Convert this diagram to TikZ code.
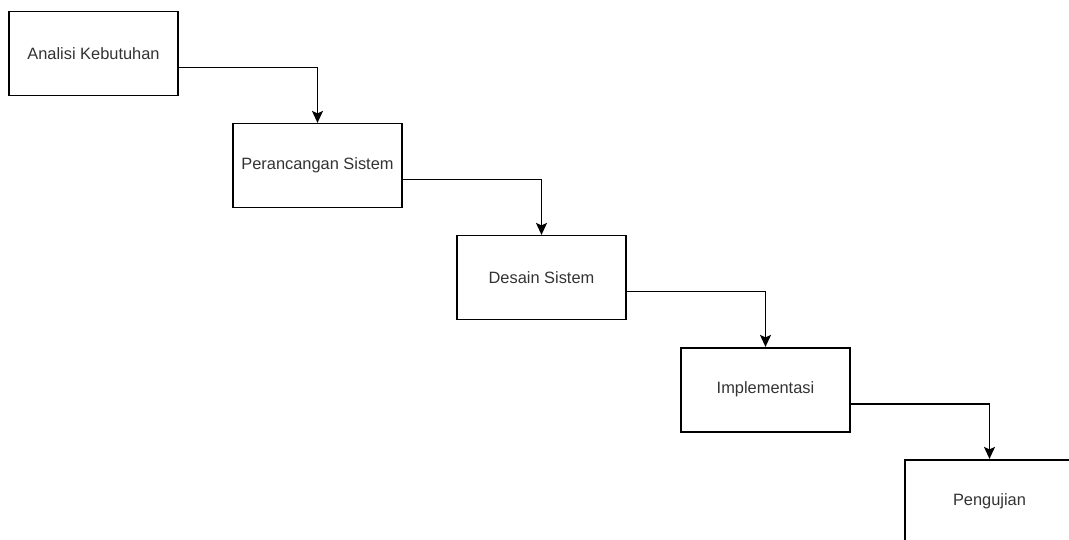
\documentclass[tikz,border=0pt]{standalone}
\usepackage{fontspec}
\setmainfont{Liberation Sans}
\usetikzlibrary{arrows.meta}
\begin{document}
\begin{tikzpicture}[x=1pt,y=-1pt,
  stepbox/.style={draw=black,line width=1.6pt,minimum width=169pt,minimum height=84pt,inner sep=0pt,
    font=\fontsize{16.4}{19}\selectfont,text=black!80},
  conn/.style={line width=1.6pt,-{Stealth[length=12pt,width=11pt,inset=2.5pt]}}]
\useasboundingbox (0,0) rectangle (1069,540);
\clip (0,0) rectangle (1069,540);
\fill[white] (0,0) rectangle (1069,540);
\node[stepbox] (b1) at (93.5,53.7) {Analisi Kebutuhan};
\node[stepbox] (b2) at (317.5,165.7) {Perancangan Sistem};
\node[stepbox] (b3) at (541.5,277.7) {Desain Sistem};
\node[stepbox] (b4) at (765.5,389.7) {Implementasi};
\node[stepbox] (b5) at (989.5,501.7) {Pengujian};
\draw[conn] ([yshift=-14pt]b1.east) -| (b2.north);
\draw[conn] ([yshift=-14pt]b2.east) -| (b3.north);
\draw[conn] ([yshift=-14pt]b3.east) -| (b4.north);
\draw[conn] ([yshift=-14pt]b4.east) -| (b5.north);
\end{tikzpicture}
\end{document}
